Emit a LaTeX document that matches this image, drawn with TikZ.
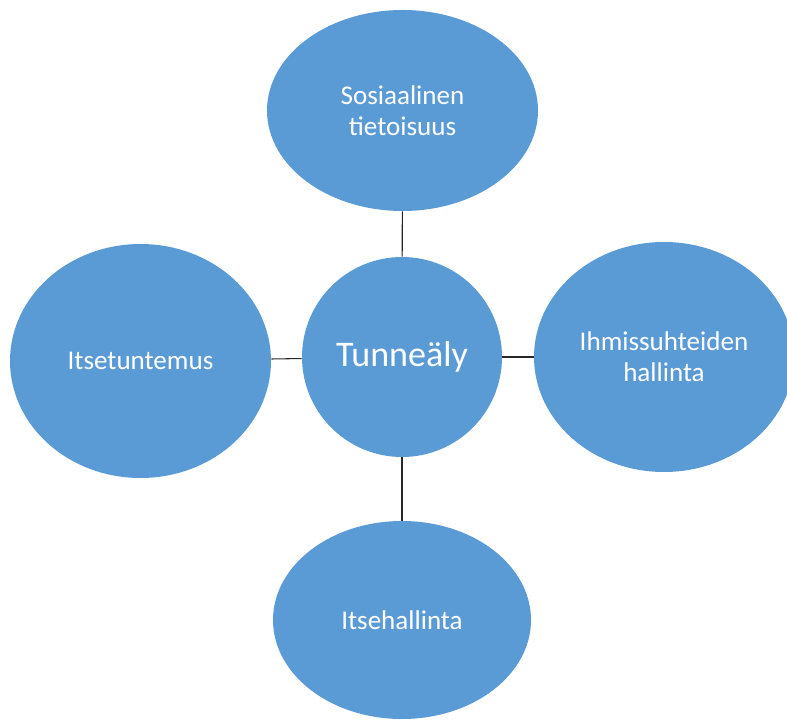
\documentclass[tikz,border=0pt]{standalone}
\usepackage{fontspec}
\setmainfont{Carlito}
\usepackage{tikz}
\usetikzlibrary{%
	calc,%
	shapes
}
\definecolor{office-blue}{RGB}{91,155,213}

\begin{document}
\begin{tikzpicture}[
		pallo/.style={ellipse, fill=office-blue, inner sep=0pt, text=white, align=center,
			font=\fontsize{15.4}{17.5}\selectfont},
		yhteys/.style={black!85, line width=0.6pt}
	]
		\useasboundingbox (0,0) rectangle (15.74,14.4);
		
		% Central circle
		\node[pallo, circle, minimum size=4cm, font=\fontsize{20.5}{24}\selectfont] (tunne) at (8.04,7.26) {Tunneäly};
		
		% Surrounding ellipses
		\node[pallo, minimum width=5.42cm, minimum height=4.02cm] (sosiaalinen) at (8.05,12.19) {Sosiaalinen\\tietoisuus};
		\node[pallo, minimum width=5.22cm, minimum height=4.68cm] (itsetuntemus) at (2.81,7.18) {Itsetuntemus};
		\node[pallo, minimum width=5.2cm, minimum height=4.6cm] (ihmissuhteet) at (13.28,7.26) {Ihmissuhteiden\\hallinta};
		\node[pallo, minimum width=5.16cm, minimum height=3.96cm] (itsehallinta) at (8.04,2.0) {Itsehallinta};
		
		% Connectors
		\draw[yhteys] (tunne) -- (sosiaalinen);
		\draw[yhteys] (tunne) -- (itsetuntemus);
		\draw[yhteys] (tunne) -- (ihmissuhteet);
		\draw[yhteys] (tunne) -- (itsehallinta);
	\end{tikzpicture}
\end{document}
